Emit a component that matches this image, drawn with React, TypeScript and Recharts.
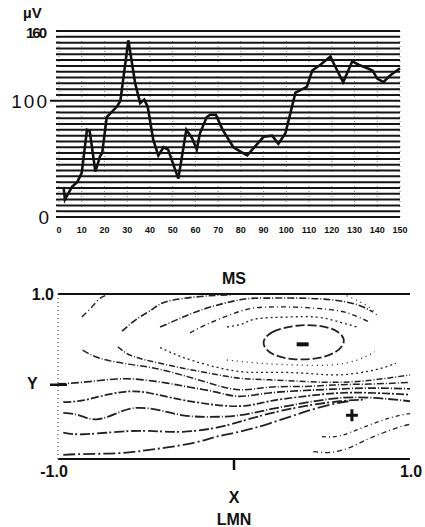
import React from "react";
import { LineChart, Line, XAxis, YAxis, CartesianGrid, ReferenceLine, Label } from "recharts";

// ---------- Top panel: amplitude (µV) vs time ----------
const timeMs = [2, 2.6, 5.7, 8, 10, 12.3, 13.5, 16, 18, 19, 21, 25.5, 27, 30.5, 33.5, 35.7, 37.5, 39, 41.5, 43.7, 46, 48, 52.5, 56, 58.5, 60.6, 62, 65, 66.5, 69, 72, 76.7, 81, 82.8, 85.5, 90, 93.8, 96.5, 99.6, 104, 106, 109, 111.4, 115, 119.4, 121.6, 125, 129, 131.7, 135.7, 137.9, 140, 142.7, 145.8, 150];
const amplitudeUv = [26, 15, 26, 30, 38, 75, 74, 39, 52, 55, 86, 95, 100, 152, 115, 98, 101, 95, 66, 53, 60, 58, 33, 75, 68, 58, 72, 86, 88, 88, 75, 60, 55, 53, 59, 69, 70, 63, 72, 107, 109, 112, 126, 131, 138, 129, 116, 134, 131, 128, 126, 119, 116, 122, 128];
const xTicksTop = [0, 10, 20, 30, 40, 50, 60, 70, 80, 90, 100, 110, 120, 130, 140, 150];
const yGridTop = [0, 5, 10, 15, 20, 25, 30, 35, 40, 45, 50, 55, 60, 65, 70, 75, 80, 85, 90, 95, 100, 105, 110, 115, 120, 125, 130, 135, 140, 145, 150, 155, 160];
const yLabelsTop = [0, 100, 160];

// ---------- Bottom panel: contour map "MS" ----------
const arcOuter1 = [[-0.864, 0.72], [-0.8, 0.86], [-0.76, 0.95], [-0.72, 0.99]];
const arcOuter2 = [[-0.636, 0.55], [-0.55, 0.7], [-0.46, 0.82], [-0.38, 0.91], [-0.19, 0.97], [-0.02, 0.99]];
const arcOuter3 = [[-0.42, 0.6], [-0.29, 0.72], [-0.153, 0.83], [0.034, 0.93], [0.165, 0.95], [0.36, 0.95], [0.55, 0.93], [0.7, 0.87], [0.79, 0.78]];
const arcMid = [[-0.25, 0.53], [-0.136, 0.65], [0.034, 0.79], [0.165, 0.84], [0.36, 0.84], [0.55, 0.81], [0.66, 0.76], [0.77, 0.66]];
const arcInner = [[-0.04, 0.6], [0.05, 0.64], [0.13, 0.7], [0.3, 0.72], [0.47, 0.72], [0.6, 0.66], [0.7, 0.6]];
const arcFarRight = [[0.64, 0.98], [0.72, 0.9], [0.78, 0.82], [0.82, 0.72]];
const ellipseMin = [[0.15, 0.4], [0.2, 0.55], [0.36, 0.63], [0.5, 0.62], [0.6, 0.55], [0.64, 0.42], [0.58, 0.28], [0.47, 0.21], [0.33, 0.2], [0.21, 0.26]];
const underEllipse = [[-0.04, 0.2], [0.15, 0.16], [0.35, 0.14], [0.55, 0.14], [0.7, 0.2], [0.8, 0.3]];
const flow1 = [[-0.42, 0.35], [-0.3, 0.24], [-0.15, 0.14], [0.03, 0.06], [0.2, 0.05], [0.4, 0.04], [0.6, 0.02], [0.8, 0.08], [0.92, 0.16]];
const flow2 = [[-0.66, 0.36], [-0.58, 0.25], [-0.44, 0.17], [-0.29, 0.1], [-0.14, 0.04], [0.03, -0.02], [0.2, -0.04], [0.4, -0.06], [0.6, -0.07], [0.8, -0.04], [1.0, 0.02]];
const flow3 = [[-0.86, 0.32], [-0.76, 0.22], [-0.6, 0.15], [-0.45, 0.1], [-0.3, 0.02], [-0.14, -0.08], [0.03, -0.16], [0.2, -0.13], [0.4, -0.12], [0.6, -0.1], [0.8, -0.09], [1.0, -0.07]];
const flow4 = [[-1.0, -0.09], [-0.86, -0.07], [-0.665, -0.03], [-0.52, -0.04], [-0.38, -0.08], [-0.25, -0.13], [-0.1, -0.19], [0.03, -0.24], [0.2, -0.2], [0.4, -0.17], [0.6, -0.15], [0.8, -0.14], [1.0, -0.15]];
const flow5 = [[-0.97, -0.31], [-0.86, -0.29], [-0.72, -0.22], [-0.59, -0.18], [-0.48, -0.2], [-0.35, -0.26], [-0.19, -0.32], [0.03, -0.36], [0.2, -0.3], [0.4, -0.24], [0.6, -0.2], [0.8, -0.2], [1.0, -0.22]];
const flow6 = [[-0.97, -0.44], [-0.88, -0.47], [-0.78, -0.52], [-0.66, -0.44], [-0.55, -0.38], [-0.42, -0.41], [-0.29, -0.47], [-0.14, -0.49], [0.03, -0.47], [0.2, -0.4], [0.4, -0.32], [0.6, -0.26], [0.8, -0.26], [1.0, -0.3]];
const flow7 = [[-0.97, -0.68], [-0.86, -0.7], [-0.66, -0.67], [-0.48, -0.66], [-0.29, -0.67], [-0.1, -0.62], [0.03, -0.55], [0.2, -0.45], [0.4, -0.36], [0.6, -0.3], [0.75, -0.28]];
const flow8 = [[-0.97, -0.95], [-0.86, -0.94], [-0.665, -0.93], [-0.52, -0.9], [-0.38, -0.86], [-0.22, -0.8], [-0.1, -0.73], [0.03, -0.67], [0.2, -0.57], [0.4, -0.43], [0.55, -0.34], [0.65, -0.3]];
const lowRight1 = [[0.5, -0.73], [0.6, -0.72], [0.73, -0.62], [0.89, -0.5], [1.0, -0.45]];
const lowRight2 = [[0.45, -0.91], [0.55, -0.92], [0.66, -0.86], [0.77, -0.75], [0.93, -0.62], [1.0, -0.58]];
const xTicksBottom = [-1, 0, 1];
const yTicksBottom = [1, -0.1];
const extremaMinus = [[0.39, 0.39]];
const extremaPlus = [[0.67, -0.47]];

const FONT = "'Liberation Sans', Arial, sans-serif";

const topData = timeMs.map((t, i) => ({ t, v: amplitudeUv[i] }));
const toPts = (arr: number[][]) => arr.map(([x, y]) => ({ x, y }));

const contours: { pts: number[][]; dash: string; w: number; curve: any }[] = [
  { pts: arcOuter1, dash: "6 3 1 3", w: 1.4, curve: "natural" },
  { pts: arcOuter2, dash: "7 2 1 2", w: 1.6, curve: "natural" },
  { pts: arcOuter3, dash: "7 2 1 2", w: 1.6, curve: "natural" },
  { pts: arcMid, dash: "5 3 1 3", w: 1.4, curve: "natural" },
  { pts: arcInner, dash: "2 3", w: 1.3, curve: "natural" },
  { pts: arcFarRight, dash: "1 4", w: 1.2, curve: "natural" },
  { pts: ellipseMin, dash: "9 3", w: 1.8, curve: "basisClosed" },
  { pts: underEllipse, dash: "1 4", w: 1.3, curve: "natural" },
  { pts: flow1, dash: "2 3", w: 1.3, curve: "natural" },
  { pts: flow2, dash: "6 2 1 2", w: 1.5, curve: "natural" },
  { pts: flow3, dash: "7 2 1 2", w: 1.5, curve: "natural" },
  { pts: flow4, dash: "8 2 1 2", w: 1.7, curve: "natural" },
  { pts: flow5, dash: "8 2 2 2", w: 1.7, curve: "natural" },
  { pts: flow6, dash: "10 2 1 2", w: 1.8, curve: "natural" },
  { pts: flow7, dash: "10 2 2 3", w: 1.8, curve: "natural" },
  { pts: flow8, dash: "12 3 2 3", w: 1.8, curve: "natural" },
  { pts: lowRight1, dash: "4 3 1 3", w: 1.3, curve: "natural" },
  { pts: lowRight2, dash: "5 3 1 3", w: 1.3, curve: "natural" },
];

const TopYTick = (props: any) => {
  const { x, y, payload } = props;
  const v = payload.value;
  const dash = <line x1={x - 3} x2={x} y1={y} y2={y} stroke="#111" strokeWidth={2} />;
  if (v === yLabelsTop[1]) {
    return (
      <g>
        <line x1={x - 9} x2={x} y1={y} y2={y} stroke="#111" strokeWidth={2} />
        <text x={x - 10} y={y + 7} textAnchor="end" fontSize={19} fontFamily={FONT} letterSpacing={2} fill="#111">100</text>
      </g>
    );
  }
  if (v === yLabelsTop[0]) {
    return (
      <g>
        {dash}
        <text x={x - 10} y={y + 7} textAnchor="end" fontSize={19} fontFamily={FONT} fill="#111">0</text>
      </g>
    );
  }
  if (v === yLabelsTop[2]) {
    return (
      <g>
        {dash}
        <text x={x - 14} y={y + 7} textAnchor="end" fontSize={15} fontWeight="bold" fontFamily={FONT} letterSpacing={-2} fill="#111">160</text>
        <text x={x - 36} y={y - 13} textAnchor="start" fontSize={15} fontWeight="bold" fontFamily={FONT} fill="#111">µV</text>
      </g>
    );
  }
  return dash;
};

const TopXTick = (props: any) => {
  const { x, y, payload } = props;
  return (
    <text x={x} y={y + 16} textAnchor="middle" fontSize={9} fontWeight="bold" fontFamily={FONT} fill="#111">
      {payload.value}
    </text>
  );
};

const BottomXTick = (props: any) => {
  const { x, y, payload } = props;
  const v = payload.value;
  if (v === 0) {
    return <line x1={x} x2={x} y1={y} y2={y + 11} stroke="#111" strokeWidth={2.5} />;
  }
  return (
    <text x={v < 0 ? x - 4 : x + 1} y={y + 18} textAnchor="middle" fontSize={16} fontWeight="bold" fontFamily={FONT} fill="#111">
      {v < 0 ? "-1.0" : "1.0"}
    </text>
  );
};

const BottomYTick = (props: any) => {
  const { x, y, payload } = props;
  const v = payload.value;
  if (v === 1) {
    return (
      <text x={x - 4} y={y + 6} textAnchor="end" fontSize={16} fontWeight="bold" fontFamily={FONT} fill="#111">1.0</text>
    );
  }
  return <line x1={x - 8} x2={x + 9} y1={y} y2={y} stroke="#111" strokeWidth={2.5} />;
};

export default function App() {
  return (
    <div style={{ position: "absolute", left: 0, top: 0, width: 425, height: 527, background: "#fff" }}>
      <div style={{ position: "absolute", left: 0, top: 0 }}>
        <LineChart width={425} height={240} data={topData} margin={{ top: 31, right: 25, left: 0, bottom: 0 }}>
          <CartesianGrid horizontal={false} stroke="#888" strokeWidth={1} strokeDasharray="1 4" />
          <CartesianGrid vertical={false} stroke="#151515" strokeWidth={2} />
          <XAxis
            dataKey="t"
            type="number"
            domain={[0, 150]}
            ticks={xTicksTop}
            height={23}
            axisLine={false}
            tickLine={false}
            tickSize={0}
            tickMargin={0}
            tick={<TopXTick />}
            interval={0}
          />
          <YAxis
            type="number"
            domain={[0, 160]}
            ticks={yGridTop}
            width={59}
            axisLine={false}
            tickLine={false}
            tickSize={0}
            tickMargin={0}
            tick={<TopYTick />}
            interval={0}
          />
          <Line dataKey="v" type="linear" stroke="#111" strokeWidth={2.6} dot={false} isAnimationActive={false} />
        </LineChart>
      </div>
      <div style={{ position: "absolute", left: 0, top: 240 }}>
        <LineChart width={425} height={287} margin={{ top: 54, right: 15, left: 0, bottom: 0 }}>
          <XAxis
            dataKey="x"
            type="number"
            domain={[-1, 1]}
            ticks={xTicksBottom}
            height={68}
            axisLine={false}
            tickLine={false}
            tickSize={0}
            tickMargin={0}
            tick={<BottomXTick />}
            interval={0}
            allowDataOverflow
          >
            <Label value="X" position="insideBottom" offset={24} fontSize={16} fontWeight="bold" fontFamily={FONT} fill="#111" />
            <Label value="LMN" position="insideBottom" offset={2} fontSize={16} fontWeight="bold" fontFamily={FONT} fill="#111" />
          </XAxis>
          <YAxis
            type="number"
            domain={[-1, 1]}
            ticks={yTicksBottom}
            width={58}
            axisLine={false}
            tickLine={false}
            tickSize={0}
            tickMargin={0}
            tick={<BottomYTick />}
            interval={0}
            allowDataOverflow
          >
            <Label value="Y" position="insideLeft" offset={27} dy={7} fontSize={16} fontWeight="bold" fontFamily={FONT} fill="#111" />
          </YAxis>
          <ReferenceLine y={1} stroke="#111" strokeWidth={2}>
            <Label value="MS" position="top" offset={10} fontSize={16} fontWeight="bold" fontFamily={FONT} fill="#111" />
          </ReferenceLine>
          <ReferenceLine y={-1} stroke="#111" strokeWidth={1.8} />
          <ReferenceLine x={-1} stroke="#555" strokeWidth={1.2} strokeDasharray="1 3" />
          {contours.map((c, i) => (
            <Line
              key={i}
              data={toPts(c.pts)}
              dataKey="y"
              type={c.curve}
              stroke="#222"
              strokeWidth={c.w}
              strokeDasharray={c.dash}
              dot={false}
              isAnimationActive={false}
            />
          ))}
          <Line
            data={toPts(extremaMinus)}
            dataKey="y"
            stroke="none"
            isAnimationActive={false}
            dot={(p: any) => <rect key="m" x={p.cx - 6} y={p.cy - 2} width={12} height={4} fill="#111" />}
          />
          <Line
            data={toPts(extremaPlus)}
            dataKey="y"
            stroke="none"
            isAnimationActive={false}
            dot={(p: any) => (
              <g key="p">
                <rect x={p.cx - 6} y={p.cy - 1.5} width={12} height={3} fill="#111" />
                <rect x={p.cx - 1.5} y={p.cy - 6} width={3} height={12} fill="#111" />
              </g>
            )}
          />
        </LineChart>
      </div>
    </div>
  );
}
